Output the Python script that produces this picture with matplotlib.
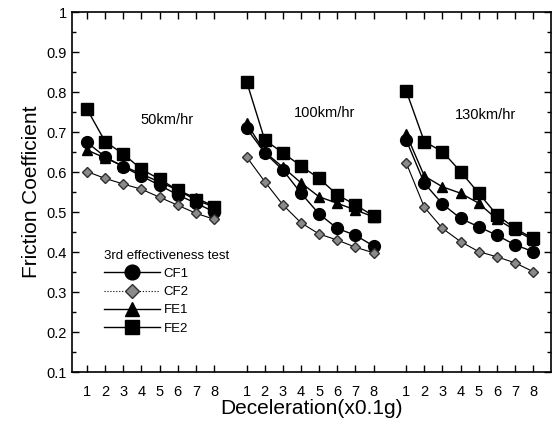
import matplotlib
matplotlib.use("Agg")
import matplotlib.pyplot as plt
from matplotlib.lines import Line2D
import numpy as np

plt.rcParams["font.family"] = ["Liberation Sans", "DejaVu Sans"]

decel = [1, 2, 3, 4, 5, 6, 7, 8]
speeds = ["50km/hr", "100km/hr", "130km/hr"]

# friction coefficient per speed group, decel 1..8
cf1 = [
    [0.674, 0.638, 0.613, 0.590, 0.567, 0.543, 0.522, 0.501],
    [0.709, 0.648, 0.605, 0.547, 0.495, 0.459, 0.442, 0.415],
    [0.680, 0.572, 0.520, 0.484, 0.463, 0.442, 0.418, 0.401],
]
cf2 = [
    [0.601, 0.584, 0.570, 0.557, 0.537, 0.517, 0.497, 0.482],
    [0.638, 0.576, 0.518, 0.473, 0.445, 0.430, 0.412, 0.398],
    [0.623, 0.512, 0.459, 0.426, 0.401, 0.388, 0.373, 0.351],
]
fe1 = [
    [0.655, 0.635, 0.615, 0.595, 0.575, 0.555, 0.535, 0.515],
    [0.722, 0.650, 0.612, 0.573, 0.538, 0.522, 0.505, 0.488],
    [0.695, 0.590, 0.563, 0.547, 0.522, 0.482, 0.455, 0.430],
]
fe2 = [
    [0.757, 0.676, 0.645, 0.607, 0.582, 0.555, 0.530, 0.513],
    [0.826, 0.680, 0.648, 0.615, 0.584, 0.543, 0.518, 0.490],
    [0.803, 0.676, 0.651, 0.601, 0.547, 0.493, 0.459, 0.434],
]

group_step = 8.8
label_pos = [(5.4, 0.73), (14.1, 0.747), (23.0, 0.742)]

series = [
    ("CF1", cf1, dict(marker="o", ms=8.5, mfc="black", mec="black", lw=1.0), "-"),
    ("CF2", cf2, dict(marker="D", ms=5.5, mfc="#8a8a8a", mec="#303030", lw=0.8), ":"),
    ("FE1", fe1, dict(marker="^", ms=7.5, mfc="black", mec="black", lw=1.0), "-"),
    ("FE2", fe2, dict(marker="s", ms=8.5, mfc="black", mec="black", lw=1.0), "-"),
]

fig = plt.figure(figsize=(5.56, 4.24), dpi=100)
ax = fig.add_axes([0.1295, 0.1226, 0.862, 0.849])

handles = []
for name, data, style, leg_ls in series:
    for g in range(3):
        x = np.array(decel) + g * group_step
        ax.plot(x, data[g], color="black", **style)
    hs = dict(style)
    hs["ms"] = style["ms"] * 1.25
    handles.append(Line2D([], [], color="black", ls=leg_ls, label=name, **hs))

for (tx, ty), s in zip(label_pos, speeds):
    ax.text(tx, ty, s, fontsize=10.5, ha="center", va="center")

xt = np.concatenate([np.array(decel) + g * group_step for g in range(3)])
ax.set_xticks(xt)
ax.set_xticklabels([str(d) for d in decel] * 3, fontsize=10.5)
ax.set_xlim(0.17, 26.6)
ax.set_ylim(0.1, 1.0)
ax.set_yticks(np.arange(0.1, 1.01, 0.1))
ax.set_yticklabels(["0.1", "0.2", "0.3", "0.4", "0.5", "0.6", "0.7", "0.8", "0.9", "1"], fontsize=10.5)
ax.set_yticks(np.arange(0.15, 1.0, 0.1), minor=True)
ax.tick_params(which="both", direction="in", top=True, right=True)
ax.tick_params(which="major", length=5, width=1)
ax.tick_params(which="minor", length=3, width=1)
ax.tick_params(axis="x", pad=9)
for sp in ax.spines.values():
    sp.set_linewidth(1.2)

ax.set_xlabel("Deceleration(x0.1g)", fontsize=15, labelpad=0)
ax.set_ylabel("Friction Coefficient", fontsize=15, labelpad=4)

leg = ax.legend(handles=handles, loc="upper left", bbox_to_anchor=(0.048, 0.365), frameon=False,
                title="3rd effectiveness test", fontsize=9.5, title_fontsize=9.5,
                handlelength=4.2, labelspacing=0.45, handletextpad=0.3,
                borderpad=0.2)
leg._legend_box.align = "left"

fig.savefig("out.png", dpi=100)
